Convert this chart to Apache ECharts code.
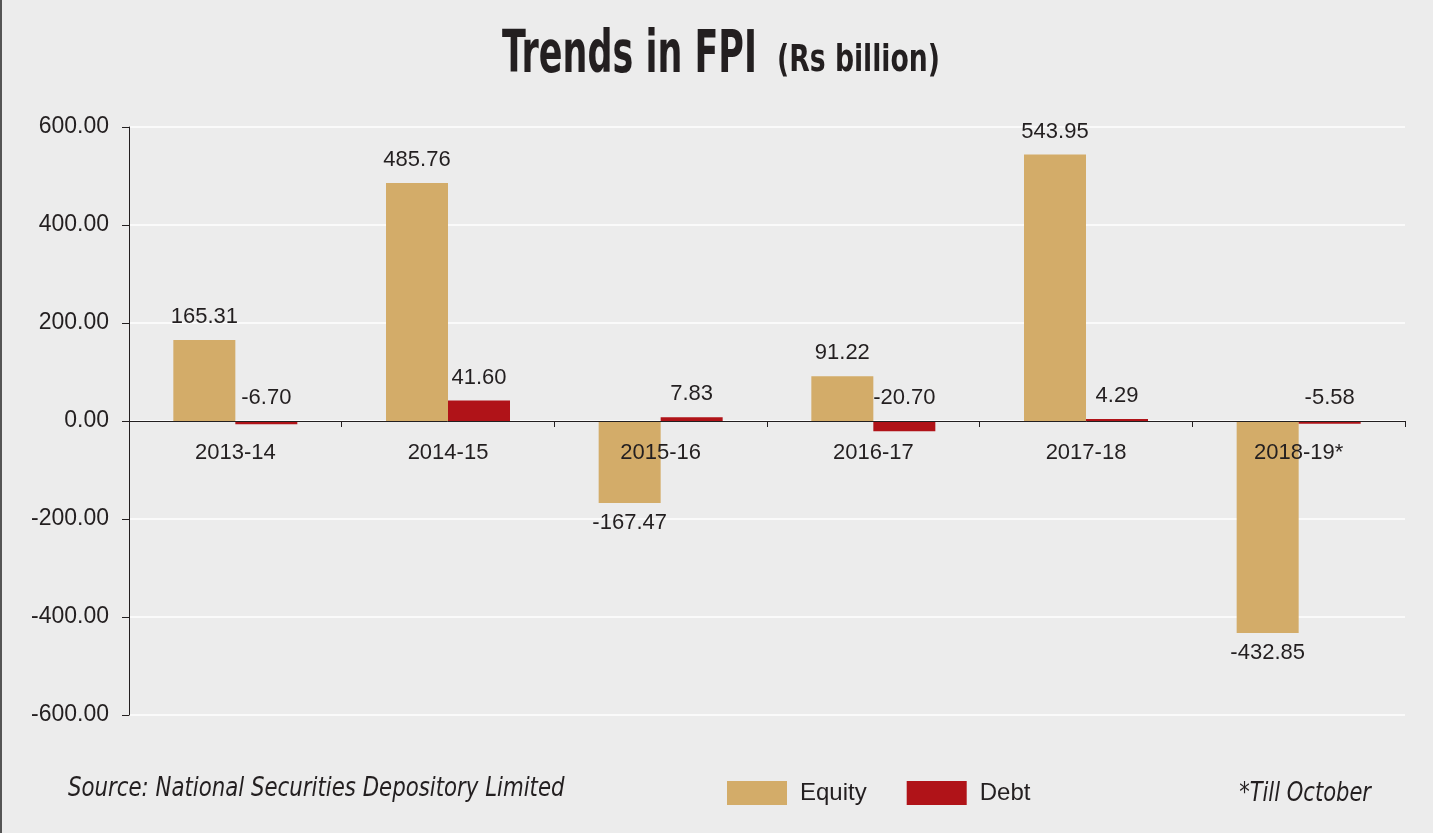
<!DOCTYPE html>
<html>
<head>
<meta charset="utf-8">
<script src="https://cdn.jsdelivr.net/npm/echarts@6/dist/echarts.min.js"></script>
<style>
  html, body { margin: 0; padding: 0; background: #ececec; }
  #chart { width: 1433px; height: 833px; border-left: 2px solid #555; box-sizing: border-box; }
</style>
</head>
<body>
<div id="chart"></div>
<script>
// FPI flows, Rs billion
var years = ['2013-14', '2014-15', '2015-16', '2016-17', '2017-18', '2018-19*'];
var equity = [165.31, 485.76, -167.47, 91.22, 543.95, -432.85];
var debt = [-6.70, 41.60, 7.83, -20.70, 4.29, -5.58];
var yTicks = [-600, -400, -200, 0, 200, 400, 600];

var font = '"Liberation Sans", Arial, sans-serif';
var condensed = '"DejaVu Sans Condensed", "DejaVu Sans", sans-serif';
var ink = '#231f20';

var myChart = echarts.init(document.getElementById('chart'));

var option = {
    backgroundColor: '#ececec',
    animation: false,
    legend: {
        left: 720,
        top: 776,
        itemWidth: 60,
        itemHeight: 24,
        itemGap: 40,
        icon: 'rect',
        textStyle: { fontFamily: font, fontSize: 24, color: ink, padding: [0, 0, 0, 8] },
        data: ['Equity', 'Debt']
    },
    graphic: [
        {
            type: 'text', x: 500, y: 28, scaleX: 0.67,
            style: { text: 'Trends in FPI', fontFamily: condensed, fontWeight: 'bold', fontSize: 58, fill: ink }
        },
        {
            type: 'text', x: 775, y: 42, scaleX: 0.78,
            style: { text: '(Rs billion)', fontFamily: condensed, fontWeight: 'bold', fontSize: 38, fill: ink }
        },
        {
            type: 'text', x: 66, y: 776, scaleX: 0.91,
            style: { text: 'Source: National Securities Depository Limited', fontFamily: condensed, fontStyle: 'italic', fontSize: 26, fill: ink }
        },
        {
            type: 'text', x: 1369, y: 781, scaleX: 0.9,
            style: { text: '*Till October', fontFamily: condensed, fontStyle: 'italic', fontSize: 26, fill: ink, align: 'right' }
        }
    ],
    grid: { left: 127, right: 28, top: 127, bottom: 118 },
    xAxis: {
        type: 'category',
        data: years,
        z: 5,
        offset: -294,
        axisLine: { onZero: false, lineStyle: { color: ink, width: 1 } },
        axisTick: { show: true, length: 6, lineStyle: { color: ink } },
        axisLabel: { fontFamily: font, fontSize: 22, color: ink, margin: 21 }
    },
    yAxis: {
        type: 'value',
        min: yTicks[0],
        max: yTicks[yTicks.length - 1],
        interval: 200,
        axisLine: { show: true, lineStyle: { color: ink } },
        axisTick: { show: true, length: 7, lineStyle: { color: ink } },
        axisLabel: {
            fontFamily: font, fontSize: 23, color: ink, margin: 20,
            formatter: function (v) { return v.toFixed(2); }
        },
        splitLine: { lineStyle: { color: '#ffffff', width: 1.5 } }
    },
    series: [
        {
            name: 'Equity',
            type: 'bar',
            barWidth: 62,
            barGap: '0%',
            itemStyle: { color: '#d3ac69' },
            label: {
                show: true,
                fontFamily: font, fontSize: 22, color: ink, distance: 12,
                formatter: function (p) { return p.value.toFixed(2); }
            },
            data: equity.map(function (v) {
                return { value: v, label: { position: v < 0 ? 'bottom' : 'top', distance: v < 0 ? 9 : 12 } };
            })
        },
        {
            name: 'Debt',
            type: 'bar',
            barWidth: 62,
            itemStyle: { color: '#b01318' },
            label: {
                show: true, position: 'top',
                fontFamily: font, fontSize: 22, color: ink, distance: 12,
                formatter: function (p) { return p.value.toFixed(2); }
            },
            data: debt
        }
    ]
};

myChart.setOption(option);
</script>
</body>
</html>
